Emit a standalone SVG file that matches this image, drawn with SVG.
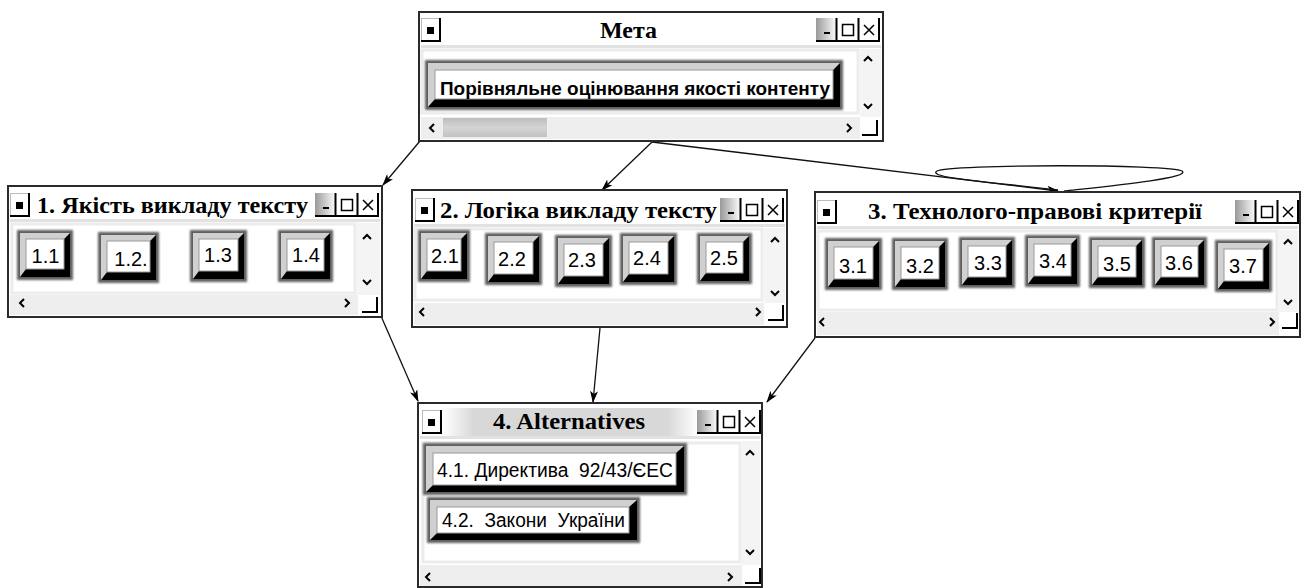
<svg xmlns="http://www.w3.org/2000/svg" xmlns:xlink="http://www.w3.org/1999/xlink" width="1305" height="588" viewBox="0 0 1305 588">
<style>
.win{fill:#fff;stroke:#2a2a2a;stroke-width:2}
.sep{fill:#e2e2e2}
.ttl{font-family:"Liberation Serif","Times New Roman",serif;font-weight:bold;font-size:23px;fill:#000}
.lbl{font-family:"Liberation Sans",Arial,sans-serif;font-size:20px;fill:#000;text-anchor:middle}
.alt{font-family:"Liberation Sans",Arial,sans-serif;font-size:20px;fill:#000}
.mtx{font-family:"Liberation Sans",Arial,sans-serif;font-size:19px;font-weight:bold;fill:#000}
.bo{fill:#5e5e5e;filter:url(#soft)}
.bk{fill:#000}
.bl{fill:#d0d0d0}
.bf{fill:#fff;stroke:#9a9a9a;stroke-width:1}
.cnt{fill:#fff;stroke:#ececec;stroke-width:3}
.vs{fill:#f4f4f4}
.hs{fill:#eeeeee}
.chev{fill:none;stroke:#000;stroke-width:2}
.conn{fill:none;stroke:#111;stroke-width:1.3}
.arr{marker-end:url(#ah)}
</style>
<defs>
<filter id="soft" x="-10%" y="-10%" width="120%" height="120%"><feGaussianBlur stdDeviation="0.8"/></filter>
<linearGradient id="gg" x1="0" y1="0" x2="1" y2="0"><stop offset="0" stop-color="#9a9a9a"/><stop offset="1" stop-color="#fff"/></linearGradient>
<linearGradient id="thumb" x1="0" y1="0" x2="0" y2="1"><stop offset="0" stop-color="#bdbdbd"/><stop offset="0.5" stop-color="#d4d4d4"/><stop offset="1" stop-color="#c2c2c2"/></linearGradient>
<linearGradient id="glow" x1="0" y1="0" x2="1" y2="0"><stop offset="0" stop-color="#fff"/><stop offset="0.12" stop-color="#d8d8d8"/><stop offset="0.88" stop-color="#d8d8d8"/><stop offset="1" stop-color="#fff"/></linearGradient>
<marker id="ah" markerWidth="12" markerHeight="8" refX="11" refY="4" orient="auto" markerUnits="userSpaceOnUse"><path d="M0,0 L12,4 L0,8 L3,4 Z" fill="#000"/></marker>
<symbol id="icon" viewBox="0 0 20 24" width="20" height="24">
<rect x="0.5" y="0.5" width="18" height="22" fill="#fff" stroke="#bbb" stroke-width="1"/>
<path d="M19,0 V23 H0" fill="none" stroke="#000" stroke-width="2"/>
<rect x="6" y="9" width="7" height="7" fill="#000"/>
</symbol>
<symbol id="tb" viewBox="0 0 64 24" width="64" height="24">
<rect x="0" y="0" width="21" height="23" fill="url(#gg)"/>
<rect x="21" y="0" width="43" height="23" fill="#fff"/>
<path d="M20.5,0 V23 M42.5,0 V23 M63,0 V23 M0,23 H64" fill="none" stroke="#000" stroke-width="2"/>
<path d="M8,15 H14" stroke="#000" stroke-width="2"/>
<rect x="26.5" y="6.5" width="11" height="11" fill="none" stroke="#000" stroke-width="1.5"/>
<path d="M48,7 L58,17 M58,7 L48,17" stroke="#000" stroke-width="1.5"/>
</symbol>
<symbol id="corner" viewBox="0 0 16 16" width="16" height="16">
<rect x="0" y="0" width="16" height="16" fill="#fff"/>
<path d="M15,0 V15 H0" fill="none" stroke="#000" stroke-width="2"/>
</symbol>
<path id="up" class="chev" d="M-4,2 L0,-2 L4,2"/>
<path id="dn" class="chev" d="M-4,-2 L0,2 L4,-2"/>
<path id="lf" class="chev" d="M2,-4 L-2,0 L2,4"/>
<path id="rt" class="chev" d="M-2,-4 L2,0 L-2,4"/>
</defs>
<rect width="1305" height="588" fill="#fff"/>

<g id="connectors">
<line class="conn arr" x1="420" y1="141" x2="383" y2="185"/>
<line class="conn arr" x1="652" y1="142" x2="602" y2="190"/>
<line class="conn arr" x1="652" y1="142" x2="1058" y2="191"/>
<path class="conn" d="M1058,190 C1000,183 925,178 937,171 C948,164 1172,164 1182,171 C1192,178 1110,186 1064,191"/>
<line class="conn arr" x1="381" y1="316" x2="418" y2="401"/>
<line class="conn arr" x1="600" y1="328" x2="593" y2="402"/>
<line class="conn arr" x1="815" y1="338" x2="767" y2="402"/>
</g>

<g id="meta" transform="translate(419,12)">
<rect class="win" x="0" y="0" width="464" height="129"/>
<rect class="sep" x="2" y="33" width="460" height="3"/>
<use href="#icon" x="2" y="6"/>
<use href="#tb" x="397" y="6"/>
<text class="ttl" x="181" y="26" textLength="57" lengthAdjust="spacingAndGlyphs">Мета</text>
<rect class="cnt" x="3" y="38" width="436" height="63"/>
<rect class="vs" x="441" y="37" width="21" height="68"/>
<use href="#up" x="449" y="47"/>
<use href="#dn" x="449" y="94"/>
<rect class="hs" x="2" y="105" width="439" height="22"/>
<rect x="24" y="106" width="104" height="19" fill="url(#thumb)"/>
<use href="#lf" x="13" y="116"/>
<use href="#rt" x="430" y="116"/>
<use href="#corner" x="443" y="108"/>
<g transform="translate(6,48)">
<rect class="bo" width="418" height="50"/>
<rect class="bk" x="3" y="3" width="412" height="44"/>
<polygon class="bl" points="3,3 415,3 408,10 10,10 10,39 3,47"/>
<rect class="bf" x="10" y="10" width="398" height="29"/>
<text class="mtx" x="15" y="35" textLength="390" lengthAdjust="spacingAndGlyphs">Порівняльне оцінювання якості контенту</text>
</g>
</g>

<g id="w1" transform="translate(8,186)">
<rect class="win" x="0" y="0" width="374" height="131"/>
<rect class="sep" x="2" y="33" width="370" height="3"/>
<use href="#icon" x="2" y="7"/>
<use href="#tb" x="307" y="7"/>
<text class="ttl" x="29" y="27" textLength="271" lengthAdjust="spacingAndGlyphs">1. Якість викладу тексту</text>
<rect class="cnt" x="4" y="38" width="343" height="69"/>
<rect class="vs" x="349" y="37" width="23" height="72"/>
<use href="#up" x="359" y="51"/>
<use href="#dn" x="359" y="96"/>
<rect class="hs" x="2" y="109" width="348" height="20"/>
<use href="#lf" x="14" y="117"/>
<use href="#rt" x="339" y="117"/>
<use href="#corner" x="354" y="111"/>
<g transform="translate(9,44)">
<rect class="bo" width="56" height="50"/><rect class="bk" x="3" y="3" width="50" height="44"/>
<polygon class="bl" points="3,3 53,3 47,9 9,9 9,39 3,47"/><rect class="bf" x="9" y="9" width="38" height="30"/>
<text class="lbl" x="28.5" y="33">1.1</text></g>
<g transform="translate(90,46)">
<rect class="bo" width="61" height="51"/><rect class="bk" x="3" y="3" width="55" height="45"/>
<polygon class="bl" points="3,3 58,3 52,9 9,9 9,40 3,48"/><rect class="bf" x="9" y="9" width="43" height="31"/>
<text class="lbl" x="33" y="34">1.2.</text></g>
<g transform="translate(182,44)">
<rect class="bo" width="57" height="52"/><rect class="bk" x="3" y="3" width="51" height="46"/>
<polygon class="bl" points="3,3 54,3 48,9 9,9 9,41 3,49"/><rect class="bf" x="9" y="9" width="39" height="32"/>
<text class="lbl" x="28" y="32">1.3</text></g>
<g transform="translate(270,44)">
<rect class="bo" width="55" height="52"/><rect class="bk" x="3" y="3" width="49" height="46"/>
<polygon class="bl" points="3,3 52,3 46,9 9,9 9,41 3,49"/><rect class="bf" x="9" y="9" width="37" height="32"/>
<text class="lbl" x="28" y="32">1.4</text></g>
</g>

<g id="w2" transform="translate(412,190)">
<rect class="win" x="0" y="0" width="375" height="137"/>
<rect class="sep" x="2" y="34" width="371" height="3"/>
<use href="#icon" x="3" y="8"/>
<use href="#tb" x="308" y="8"/>
<text class="ttl" x="28" y="28" textLength="277" lengthAdjust="spacingAndGlyphs">2. Логіка викладу тексту</text>
<rect class="cnt" x="3" y="39" width="347" height="71"/>
<rect class="vs" x="352" y="38" width="21" height="75"/>
<use href="#up" x="363" y="50"/>
<use href="#dn" x="363" y="103"/>
<rect class="hs" x="2" y="113" width="350" height="22"/>
<use href="#lf" x="10" y="122"/>
<use href="#rt" x="346" y="122"/>
<use href="#corner" x="356" y="115"/>
<g transform="translate(6,40)">
<rect class="bo" width="52" height="52"/><rect class="bk" x="3" y="3" width="46" height="46"/>
<polygon class="bl" points="3,3 49,3 43,9 9,9 9,41 3,49"/><rect class="bf" x="9" y="9" width="34" height="32"/>
<text class="lbl" x="27" y="33">2.1</text></g>
<g transform="translate(73,43)">
<rect class="bo" width="57" height="52"/><rect class="bk" x="3" y="3" width="51" height="46"/>
<polygon class="bl" points="3,3 54,3 48,9 9,9 9,41 3,49"/><rect class="bf" x="9" y="9" width="39" height="32"/>
<text class="lbl" x="27" y="33">2.2</text></g>
<g transform="translate(143,45)">
<rect class="bo" width="57" height="52"/><rect class="bk" x="3" y="3" width="51" height="46"/>
<polygon class="bl" points="3,3 54,3 48,9 9,9 9,41 3,49"/><rect class="bf" x="9" y="9" width="39" height="32"/>
<text class="lbl" x="27" y="32">2.3</text></g>
<g transform="translate(208,43)">
<rect class="bo" width="57" height="52"/><rect class="bk" x="3" y="3" width="51" height="46"/>
<polygon class="bl" points="3,3 54,3 48,9 9,9 9,41 3,49"/><rect class="bf" x="9" y="9" width="39" height="32"/>
<text class="lbl" x="27" y="32">2.4</text></g>
<g transform="translate(285,43)">
<rect class="bo" width="55" height="51"/><rect class="bk" x="3" y="3" width="49" height="45"/>
<polygon class="bl" points="3,3 52,3 46,9 9,9 9,40 3,48"/><rect class="bf" x="9" y="9" width="37" height="31"/>
<text class="lbl" x="27" y="32">2.5</text></g>
</g>

<g id="w3" transform="translate(815,192)">
<rect class="win" x="0" y="0" width="485" height="145"/>
<rect class="sep" x="2" y="34" width="481" height="3"/>
<use href="#icon" x="2" y="8"/>
<use href="#tb" x="420" y="8"/>
<text class="ttl" x="53" y="27" textLength="334" lengthAdjust="spacingAndGlyphs">3. Технолого-правові критерії</text>
<rect class="cnt" x="3" y="39" width="459" height="79"/>
<rect class="vs" x="464" y="38" width="19" height="82"/>
<use href="#up" x="473" y="50"/>
<use href="#dn" x="473" y="110"/>
<rect class="hs" x="2" y="120" width="462" height="23"/>
<use href="#lf" x="7" y="130"/>
<use href="#rt" x="457" y="130"/>
<use href="#corner" x="467" y="121"/>
<g transform="translate(10,46)">
<rect class="bo" width="57" height="52"/><rect class="bk" x="3" y="3" width="51" height="46"/>
<polygon class="bl" points="3,3 54,3 48,9 9,9 9,41 3,49"/><rect class="bf" x="9" y="9" width="39" height="32"/>
<text class="lbl" x="28" y="35">3.1</text></g>
<g transform="translate(77,46)">
<rect class="bo" width="56" height="52"/><rect class="bk" x="3" y="3" width="50" height="46"/>
<polygon class="bl" points="3,3 53,3 47,9 9,9 9,41 3,49"/><rect class="bf" x="9" y="9" width="38" height="32"/>
<text class="lbl" x="28" y="35">3.2</text></g>
<g transform="translate(144,45)">
<rect class="bo" width="56" height="51"/><rect class="bk" x="3" y="3" width="50" height="45"/>
<polygon class="bl" points="3,3 53,3 47,9 9,9 9,40 3,48"/><rect class="bf" x="9" y="9" width="38" height="31"/>
<text class="lbl" x="29" y="33">3.3</text></g>
<g transform="translate(210,43)">
<rect class="bo" width="55" height="52"/><rect class="bk" x="3" y="3" width="49" height="46"/>
<polygon class="bl" points="3,3 52,3 46,9 9,9 9,41 3,49"/><rect class="bf" x="9" y="9" width="37" height="32"/>
<text class="lbl" x="28" y="33">3.4</text></g>
<g transform="translate(274,45)">
<rect class="bo" width="56" height="51"/><rect class="bk" x="3" y="3" width="50" height="45"/>
<polygon class="bl" points="3,3 53,3 47,9 9,9 9,40 3,48"/><rect class="bf" x="9" y="9" width="38" height="31"/>
<text class="lbl" x="28" y="34">3.5</text></g>
<g transform="translate(337,45)">
<rect class="bo" width="55" height="51"/><rect class="bk" x="3" y="3" width="49" height="45"/>
<polygon class="bl" points="3,3 52,3 46,9 9,9 9,40 3,48"/><rect class="bf" x="9" y="9" width="37" height="31"/>
<text class="lbl" x="27" y="33">3.6</text></g>
<g transform="translate(400,48)">
<rect class="bo" width="57" height="52"/><rect class="bk" x="3" y="3" width="51" height="46"/>
<polygon class="bl" points="3,3 54,3 48,9 9,9 9,41 3,49"/><rect class="bf" x="9" y="9" width="39" height="32"/>
<text class="lbl" x="28" y="33">3.7</text></g>
</g>

<g id="w4" transform="translate(418,403)">
<rect class="win" x="0" y="0" width="344" height="184"/>
<rect x="25" y="5" width="255" height="28" fill="url(#glow)"/>
<rect class="sep" x="2" y="33" width="340" height="3"/>
<use href="#icon" x="4" y="7"/>
<use href="#tb" x="279" y="7"/>
<text class="ttl" x="75" y="26" textLength="152" lengthAdjust="spacingAndGlyphs">4. Alternatives</text>
<rect class="cnt" x="5" y="40" width="317" height="119"/>
<rect class="vs" x="324" y="38" width="18" height="124"/>
<use href="#up" x="332" y="50"/>
<use href="#dn" x="332" y="149"/>
<rect class="hs" x="2" y="162" width="322" height="21"/>
<use href="#lf" x="10" y="174"/>
<use href="#rt" x="312" y="174"/>
<use href="#corner" x="327" y="165"/>
<g transform="translate(5,40)">
<rect class="bo" width="264" height="52"/><rect class="bk" x="3" y="3" width="258" height="46"/>
<polygon class="bl" points="3,3 261,3 253,10 10,10 10,42 3,49"/><rect class="bf" x="10" y="10" width="243" height="32"/>
<text class="alt" x="14" y="34" textLength="236" lengthAdjust="spacingAndGlyphs" xml:space="preserve">4.1. Директива  92/43/ЄЕС</text></g>
<g transform="translate(9,94)">
<rect class="bo" width="213" height="46"/><rect class="bk" x="3" y="3" width="207" height="40"/>
<polygon class="bl" points="3,3 210,3 202,10 10,10 10,36 3,43"/><rect class="bf" x="10" y="10" width="192" height="26"/>
<text class="alt" x="15" y="30" textLength="183" lengthAdjust="spacingAndGlyphs" xml:space="preserve">4.2.  Закони  України</text></g>
</g>
</svg>
